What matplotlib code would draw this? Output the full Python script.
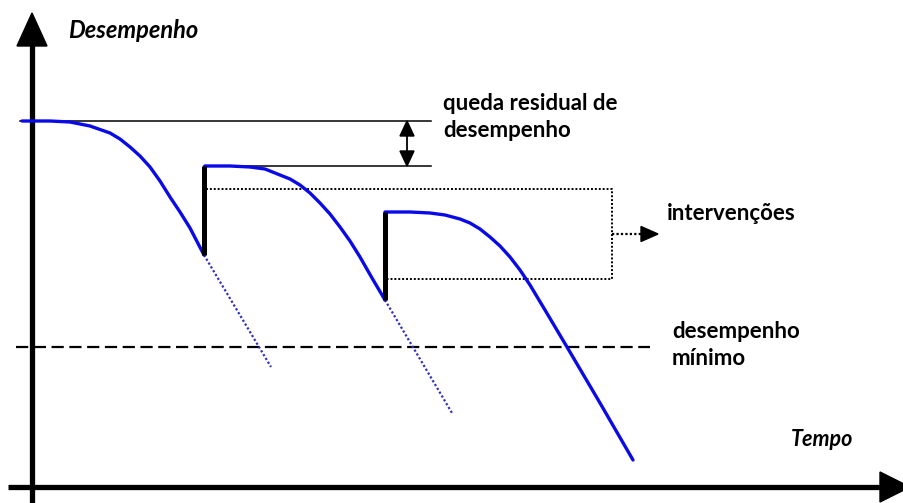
import matplotlib
matplotlib.use("Agg")
import matplotlib.pyplot as plt
from matplotlib.patches import Polygon

# ---- data (in picture pixel units) ----
curve1_x = [22, 50, 70, 90, 110, 120, 130, 140, 150, 160, 170, 180, 190, 204]
curve1_y = [121, 121, 122, 126, 133, 139, 147, 156, 167, 181, 197, 212, 228, 255]
curve2_x = [205, 230, 250, 265, 280, 290, 300, 310, 320, 330, 340, 350, 360, 372, 385]
curve2_y = [166, 166, 167, 169, 175, 179, 185, 193, 203, 214, 227, 241, 257, 278, 300]
curve3_x = [385, 410, 430, 445, 460, 470, 480, 490, 500, 510, 520, 530, 545, 567, 600, 633]
curve3_y = [212, 212, 213, 215, 219, 223, 229, 237, 246, 257, 270, 285, 310, 347, 403, 460]
trend1_x = [204, 271]
trend1_y = [255, 367]
trend2_x = [385, 452]
trend2_y = [300, 413]
jump_x = [204, 385]
jump_bottom = [255, 300]
jump_top = [166, 212]
ref_top_y = 121
ref_after_y = 166
min_level_y = 347

labels_axis = ["Desempenho", "Tempo"]
label_residual = "queda residual de\ndesempenho"
label_interv = "intervenções"
label_min = "desempenho\nmínimo"

W, H = 904, 503
fig = plt.figure(figsize=(W / 100, H / 100), dpi=100)
ax = fig.add_axes([0, 0, 1, 1])
ax.set_xlim(0, W)
ax.set_ylim(H, 0)
ax.axis("off")

blue = "#0a0ae8"
font = ["Lato", "DejaVu Sans"]

# axes arrows
ax.plot([32, 32], [503, 44], color="k", lw=3.8, solid_capstyle="butt")
ax.add_patch(Polygon([[17, 46], [47, 46], [32, 13]], closed=True, color="k"))
ax.plot([8, 884], [487, 487], color="k", lw=3.8, solid_capstyle="butt")
ax.add_patch(Polygon([[880, 472], [880, 502], [910, 487]], closed=True, color="k"))

# reference thin lines
ax.plot([20, 431], [ref_top_y, ref_top_y], color="k", lw=1.1)
ax.plot([204, 431], [ref_after_y, ref_after_y], color="k", lw=1.1)

# residual double arrow
ax.plot([407, 407], [130, 158], color="k", lw=1.3)
ax.add_patch(Polygon([[400, 136], [414, 136], [407, 121]], closed=True, color="k"))
ax.add_patch(Polygon([[400, 151], [414, 151], [407, 166]], closed=True, color="k"))

# minimum level dashed line
ax.plot([16, 650], [min_level_y, min_level_y], color="k", lw=1.6,
        linestyle=(0, (5.5, 2.5)))

# intervention dotted box + arrow
dot = (0, (1, 1))
ax.plot([206, 612, 612, 386], [189, 189, 279, 279], color="k", lw=1.4,
        linestyle=dot)
ax.plot([612, 642], [234, 234], color="k", lw=1.6, linestyle=dot)
ax.add_patch(Polygon([[641, 226.5], [641, 241.5], [658, 234]], closed=True, color="k"))

# extrapolated trend lines (dotted)
ax.plot(trend1_x, trend1_y, color="#3030c0", lw=1.6, linestyle=dot)
ax.plot(trend2_x, trend2_y, color="#3030c0", lw=1.6, linestyle=dot)

# performance curves
for cx, cy in [(curve1_x, curve1_y), (curve2_x, curve2_y), (curve3_x, curve3_y)]:
    ax.plot(cx, cy, color=blue, lw=2.4, solid_joinstyle="round",
            solid_capstyle="round")

# intervention jumps
for jx, jb, jt in zip(jump_x, jump_bottom, jump_top):
    ax.plot([jx, jx], [jb, jt], color="k", lw=3.6, solid_capstyle="butt")

# texts (multi-line: baseline refers to the last line)
fs = 16
ax.text(68, 38, labels_axis[0], fontsize=17, fontweight="bold", style="italic",
        family=font, va="baseline", ha="left")
ax.text(853, 446, labels_axis[1], fontsize=15.5, fontweight="bold", style="italic",
        family=font, va="baseline", ha="right")
ax.text(443, 137, label_residual, fontsize=fs, fontweight="bold", family=font,
        va="baseline", ha="left", linespacing=1.38)
ax.text(672, 365, label_min, fontsize=fs, fontweight="bold", family=font,
        va="baseline", ha="left", linespacing=1.38)
ax.text(667, 220, label_interv, fontsize=fs, fontweight="bold", family=font,
        va="baseline", ha="left")

fig.savefig("out.png", dpi=100)
